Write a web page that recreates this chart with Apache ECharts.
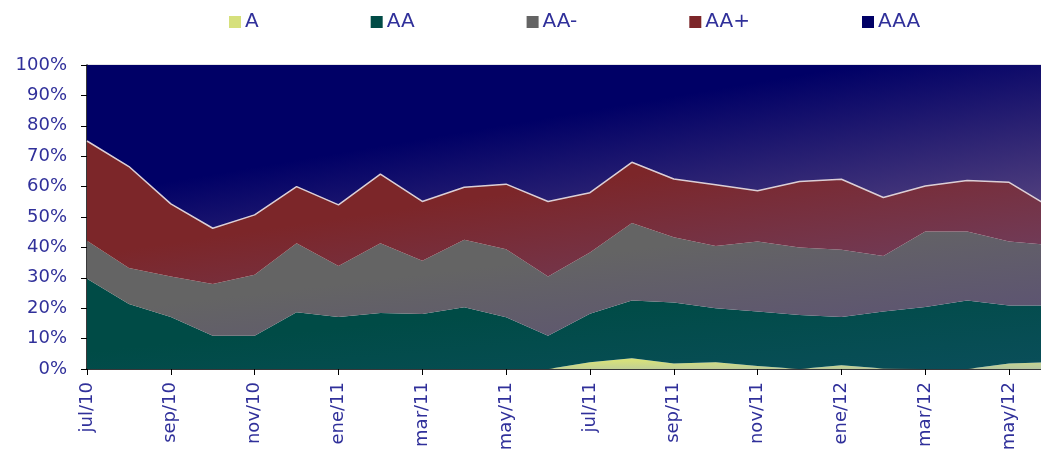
<!DOCTYPE html>
<html>
<head>
<meta charset="utf-8">
<script src="https://cdn.jsdelivr.net/npm/echarts@6/dist/echarts.min.js"></script>
<style>
html,body{margin:0;padding:0;background:#fff;}
#chart{width:1041px;height:449px;}
</style>
</head>
<body>
<div id="chart"></div>
<script>
const categories = ['jul/10','ago/10','sep/10','oct/10','nov/10','dic/10','ene/11','feb/11','mar/11','abr/11','may/11','jun/11','jul/11','ago/11','sep/11','oct/11','nov/11','dic/11','ene/12','feb/12','mar/12','abr/12','may/12','jun/12'];
const seriesNames = ['A','AA','AA-','AA+','AAA'];
const valA   = [0,0,0,0,0,0,0,0,0,0,0,0,2.2,3.5,1.8,2.2,1.0,0,1.2,0.2,0,0,1.8,2.2];
const valAA  = [29.7,21.4,17.1,10.9,10.9,18.7,17.1,18.4,18.1,20.3,17.0,10.9,16.0,19.0,20.1,17.8,17.9,17.8,15.9,18.7,20.4,22.5,19.1,18.7];
const valAAm = [12.5,11.8,13.3,17.1,20.1,22.7,16.8,23.0,17.5,22.2,22.4,19.5,20.1,25.5,21.4,20.5,23.0,22.2,22.1,18.3,24.8,22.7,21.0,19.9];
const valAAp = [32.8,33.4,23.9,18.3,19.7,18.6,20.1,22.7,19.5,17.3,21.4,24.7,19.7,20.0,19.2,20.1,16.7,21.7,23.2,19.2,15.0,16.8,19.5,12.3];
const valAAA = [25.0,33.4,45.7,53.7,49.3,40.0,46.0,35.9,44.9,40.2,39.2,44.9,42.0,32.0,37.5,39.4,41.4,38.3,37.6,43.6,39.8,38.0,38.6,46.9];
const yTicks = [0,10,20,30,40,50,60,70,80,90,100];

const values = [valA, valAA, valAAm, valAAp, valAAA];
const baseColors = ['#d6e07c','#004b46','#646464','#7c2629','#000066'];
const glowColors = ['#b4c6a4','#0a4e5a','#5b5075','#6d4165','#5d4981'];

const chart = echarts.init(document.getElementById('chart'), null, {renderer:'canvas'});
const txt = '#30309a';

function makeSeries(fills){
  return seriesNames.map((name,i)=>({
    name: name,
    type: 'line',
    stack: 'total',
    data: values[i],
    symbol: 'none',
    smooth: false,
    lineStyle: i===3 ? {width:1.5,color:'#dccfd6'} : {width:0},
    areaStyle: {color: fills[i], opacity:1},
    itemStyle: {color: baseColors[i]},
    z: 2
  }));
}

chart.setOption({
  animation:false,
  backgroundColor:'#ffffff',
  textStyle:{fontFamily:'DejaVu Sans'},
  legend:{
    data: seriesNames.map((n,i)=>({name:n, itemStyle:{color:baseColors[i]}})),
    top: 7,
    left: 224,
    icon: 'rect',
    itemWidth: 12,
    itemHeight: 12,
    itemGap: 112,
    textStyle:{color:txt,fontSize:20,fontFamily:'DejaVu Sans',padding:[0,0,0,-1]}
  },
  grid:{
    left:87, top:65, bottom:80, right:-10,
    outerBoundsMode:'none',
    containLabel:false,
    show:true, borderColor:'#c8c8d0', borderWidth:1, backgroundColor:'transparent'
  },
  xAxis:{
    type:'category',
    data:categories,
    boundaryGap:false,
    axisLine:{lineStyle:{color:'#000',width:1.5}},
    axisTick:{show:true,interval:1,length:6,lineStyle:{color:'#000'}},
    axisLabel:{interval:1,rotate:90,color:txt,fontSize:18,margin:13},
    splitLine:{show:false}
  },
  yAxis:{
    type:'value',
    min:0,max:100,interval:10,
    axisLine:{show:true,lineStyle:{color:'#000',width:1.5}},
    axisTick:{show:true,length:6,lineStyle:{color:'#000'}},
    axisLabel:{color:txt,fontSize:18,margin:20,formatter:v=>v+'%'},
    splitLine:{show:false}
  },
  series: makeSeries(baseColors)
});

// per-band gradient (top-left base -> bottom-right glow), computed from the band's own pixel box
const n = categories.length;
const cum = [];
let run = new Array(n).fill(0);
cum.push(run.slice());
values.forEach(v=>{ run = run.map((r,k)=>r+v[k]); cum.push(run.slice()); });
const px = (k,val)=>chart.convertToPixel({gridIndex:0},[k,val]);
const xL = px(0,0)[0], xR = px(n-1,0)[0];
const fills = values.map((v,i)=>{
  let yTop = Infinity, yBot = -Infinity;
  for(let k=0;k<n;k++){
    yTop = Math.min(yTop, px(k,cum[i+1][k])[1]);
    yBot = Math.max(yBot, px(k,cum[i][k])[1]);
  }
  const w = xR-xL, h = Math.max(yBot-yTop,1);
  const s = 2*w*h/(w*w+h*h);
  return new echarts.graphic.LinearGradient(xL, yTop, xL+s*h, yTop+s*w, [
    {offset:0,color:baseColors[i]},
    {offset:0.4,color:baseColors[i]},
    {offset:1,color:glowColors[i]}
  ], true);
});
chart.setOption({series: makeSeries(fills)});
</script>
</body>
</html>
